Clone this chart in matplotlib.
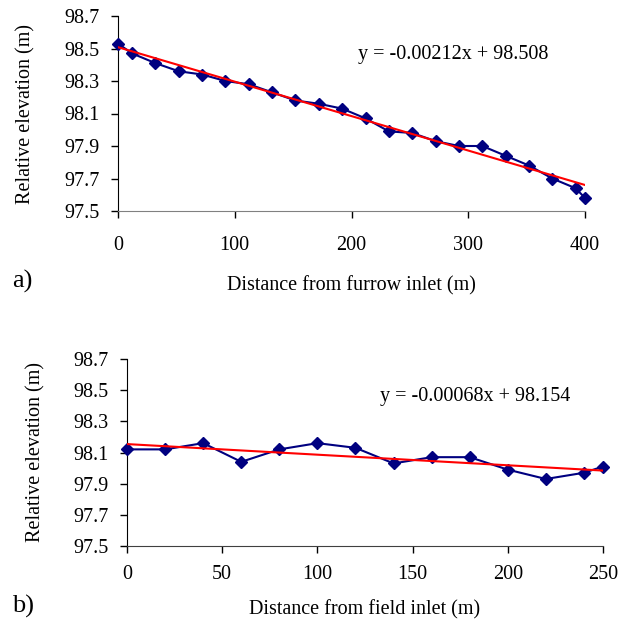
import numpy as np
import matplotlib.pyplot as plt

plt.rcParams['font.family'] = ['Liberation Serif', 'DejaVu Serif']

# a) furrow profile
dist_a = [0, 12, 32, 52, 72, 92, 112, 132, 152, 172, 192, 212, 232, 252,
          272, 292, 312, 332, 352, 372, 392, 400]
elev_a = [98.53, 98.47, 98.41, 98.36, 98.34, 98.30, 98.28, 98.23, 98.18, 98.16,
          98.13, 98.07, 97.99, 97.98, 97.93, 97.90, 97.90, 97.84, 97.78, 97.70,
          97.64, 97.58]
slope_a, icpt_a = -0.00212, 98.508

# b) field profile
dist_b = [0, 20, 40, 60, 80, 100, 120, 140, 160, 180, 200, 220, 240, 250]
elev_b = [98.12, 98.12, 98.16, 98.04, 98.12, 98.16, 98.13, 98.03, 98.07, 98.07,
          97.99, 97.93, 97.97, 98.01]
slope_b, icpt_b = -0.00068, 98.154

yticks = [97.5, 97.7, 97.9, 98.1, 98.3, 98.5, 98.7]

fig = plt.figure(figsize=(6.2, 6.28), dpi=100)
ax1 = fig.add_axes([118/620, 1 - 211/628, 467/620, 195/628])
ax2 = fig.add_axes([127/620, 1 - 546/628, 476/620, 187/628])


def draw(ax, x, y, slope, icpt, xmax, xstep, xlabel, eq_xy, tag, tag_y, spine_col,
         xpad, xlabpad, ylabpad):
    ax.plot(x, y, color='#000080', lw=1.5, marker='D', ms=6.5, clip_on=False, zorder=3)
    xs = np.array([0, xmax])
    ax.plot(xs, slope * xs + icpt, color='red', lw=1.5, zorder=4)
    ax.set_xlim(0, xmax)
    ax.set_ylim(97.5, 98.7)
    ax.set_xticks(np.arange(0, xmax + 1, xstep))
    ax.set_yticks(yticks)
    ax.set_yticklabels(['%.1f' % v for v in yticks])
    for s in ['top', 'right']:
        ax.spines[s].set_visible(False)
    ax.spines['left'].set_color('black')
    ax.spines['bottom'].set_color(spine_col)
    ax.tick_params(direction='out', length=5, width=1, labelsize=14.5)
    ax.tick_params(axis='x', pad=xpad)
    ax.tick_params(axis='y', pad=8)
    ax.set_xlabel(xlabel, fontsize=14.5, labelpad=xlabpad)
    ax.set_ylabel('Relative elevation (m)', fontsize=14.5, labelpad=ylabpad)
    ax.text(eq_xy[0], eq_xy[1], 'y = %.5fx + %.3f' % (slope, icpt), fontsize=14.5,
            ha='left', va='center', transform=fig.transFigure)
    fig.text(12/620, 1 - tag_y/628, tag, fontsize=19, ha='left', va='center')


draw(ax1, dist_a, elev_a, slope_a, icpt_a, 400, 100, 'Distance from furrow inlet (m)',
     (358/620, 1 - 54/628), 'a)', 281, '#808080', 13, 15, 21)
draw(ax2, dist_b, elev_b, slope_b, icpt_b, 250, 50, 'Distance from field inlet (m)',
     (380/620, 1 - 397/628), 'b)', 606, '#404040', 8.5, 12, 20)

fig.savefig('out.png', dpi=100)
